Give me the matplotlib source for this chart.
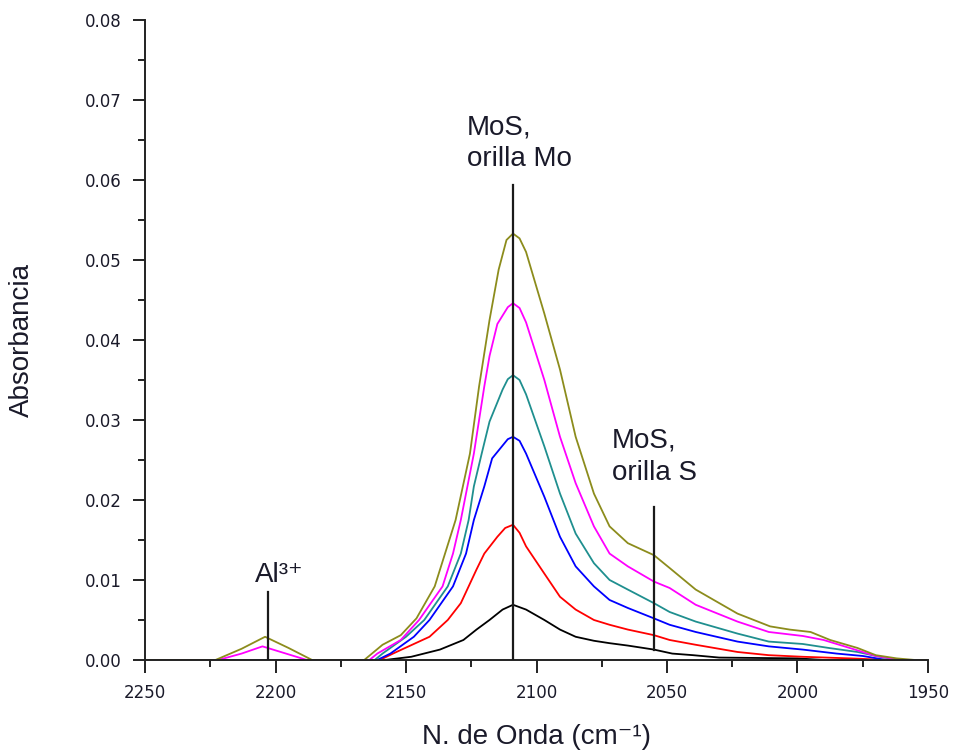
import numpy as np
import matplotlib.pyplot as plt
import matplotlib.ticker as ticker

# CO adsorption spectra, read as (wavenumber, absorbance) pairs per dose
wn_olive = [2250, 2223, 2213, 2204, 2195, 2186, 2166, 2159, 2152, 2146, 2139, 2131, 2125.5, 2122, 2118, 2114.5, 2111.5,
            2109, 2106.5, 2104, 2097, 2091, 2085, 2078, 2072, 2065, 2055, 2049, 2039, 2023, 2010.5, 2003, 1995, 1987.5,
            1977, 1970, 1962, 1955, 1950]
ab_olive = [0, 0, 0.0014, 0.0029, 0.0015, 0, 0, 0.0019, 0.0031, 0.0052, 0.0092, 0.0175, 0.0258, 0.0342, 0.0425, 0.0488,
            0.0525, 0.0533, 0.0527, 0.0510, 0.0433, 0.0363, 0.0279, 0.0208, 0.0167, 0.0146, 0.0131, 0.0115, 0.0088,
            0.0058, 0.0042, 0.0038, 0.0035, 0.0025, 0.0015, 0.0006, 0.0002, 0, 0]

wn_magenta = [2250, 2222, 2213, 2205, 2196, 2188, 2164, 2161, 2152, 2145, 2136, 2132, 2129, 2124, 2120, 2118, 2115,
              2111, 2109, 2106.5, 2104, 2097, 2091, 2085, 2078, 2072, 2065, 2055, 2049, 2039, 2023, 2011, 1998, 1990,
              1980, 1970, 1960, 1950]
ab_magenta = [0, 0, 0.0008, 0.0017, 0.0008, 0, 0, 0.0008, 0.0025, 0.005, 0.0092, 0.0133, 0.0175, 0.0258, 0.0342,
              0.0380, 0.0420, 0.0441, 0.0446, 0.0440, 0.0422, 0.035, 0.0279, 0.0221, 0.0167, 0.0133, 0.0117, 0.0098,
              0.009, 0.0069, 0.0048, 0.0035, 0.003, 0.0025, 0.0015, 0.0005, 0, 0]

wn_teal = [2250, 2162, 2159, 2150, 2143, 2134, 2129, 2126, 2124, 2121, 2118, 2113, 2111, 2109, 2106.5, 2104, 2097, 2091,
           2085, 2078, 2072, 2065, 2055, 2049, 2039, 2023, 2011, 1998, 1988, 1977, 1967, 1960, 1950]
ab_teal = [0, 0, 0.0008, 0.0029, 0.005, 0.0092, 0.0133, 0.0175, 0.0217, 0.0258, 0.0298, 0.0338, 0.0351, 0.0356, 0.0350,
           0.0332, 0.0267, 0.0208, 0.0158, 0.0121, 0.01, 0.0088, 0.0071, 0.006, 0.0048, 0.0033, 0.0023, 0.002, 0.0015,
           0.001, 0.0003, 0, 0]

wn_blue = [2250, 2161, 2156, 2147, 2141, 2132, 2127, 2124, 2120, 2117, 2113, 2111, 2109, 2106.5, 2104, 2097, 2091, 2085,
           2078, 2072, 2065, 2055, 2049, 2039, 2023, 2011, 1998, 1985, 1975, 1966, 1950]
ab_blue = [0, 0, 0.0008, 0.0029, 0.005, 0.0092, 0.0133, 0.0175, 0.0217, 0.0252, 0.0268, 0.0276, 0.0279, 0.0274, 0.0258,
           0.0204, 0.0154, 0.0117, 0.0092, 0.0075, 0.0065, 0.0052, 0.0044, 0.0035, 0.0023, 0.0017, 0.0013, 0.0008,
           0.0005, 0, 0]

wn_red = [2250, 2160, 2155, 2141, 2134, 2129, 2126, 2123, 2120, 2115, 2112, 2109, 2106.5, 2104, 2097, 2091, 2085, 2078,
          2072, 2065, 2055, 2049, 2039, 2023, 2011, 1998, 1980, 1965, 1950]
ab_red = [0, 0, 0.0008, 0.0029, 0.005, 0.0071, 0.0092, 0.0113, 0.0133, 0.0154, 0.0165, 0.0169, 0.0159, 0.0142, 0.0108,
          0.0079, 0.0063, 0.005, 0.0044, 0.0038, 0.0031, 0.0025, 0.0019, 0.001, 0.0006, 0.0004, 0.0002, 0, 0]

wn_black = [2250, 2158, 2148, 2137, 2128, 2123, 2118, 2113, 2109, 2104, 2097, 2091, 2085, 2078, 2072, 2065, 2055, 2048,
            2040, 2030, 2000, 1990, 1950]
ab_black = [0, 0, 0.0004, 0.0013, 0.0025, 0.0038, 0.005, 0.0063, 0.0069, 0.0063, 0.005, 0.0038, 0.0029, 0.0024, 0.0021,
            0.0018, 0.0013, 0.0008, 0.0006, 0.0003, 0.0002, 0, 0]

# band assignments: label, position (cm-1), marker bottom, marker top
bands = [("MoS,\norilla Mo", 2109, 0.0, 0.0594),
         ("MoS,\norilla S", 2055, 0.00125, 0.0191),
         ("Al³⁺", 2203, 0.0, 0.0085)]

series = [(wn_black, ab_black, "black"),
          (wn_red, ab_red, "#ff0000"),
          (wn_blue, ab_blue, "#0000ff"),
          (wn_teal, ab_teal, "#1f8f8f"),
          (wn_magenta, ab_magenta, "#ff00ff"),
          (wn_olive, ab_olive, "#8c8c1c")]

fig = plt.figure(figsize=(9.56, 7.54), dpi=100)
ax = fig.add_axes([0.1517, 0.1247, 0.8190, 0.8488])

for wn, ab, c in series:
    ax.plot(wn, ab, color=c, lw=1.3)

for label, pos, lo, hi in bands:
    ax.plot([pos, pos], [lo, hi], color="#1a1a1a", lw=1.6, zorder=5)

fams = ["Liberation Sans", "DejaVu Sans"]
txt = dict(family=fams, fontsize=20, color="#1a1a2a")
ax.text(2126.6, 0.0682, bands[0][0], ha="left", va="top", linespacing=1.3, **txt)
ax.text(2071.1, 0.0290, bands[1][0], ha="left", va="top", linespacing=1.3, **txt)
ax.text(2207.9, 0.00975, bands[2][0], ha="left", va="baseline", **txt)

ax.set_xlim(2250, 1950)
ax.set_ylim(0, 0.08)
ax.xaxis.set_major_locator(ticker.MultipleLocator(50))
ax.xaxis.set_minor_locator(ticker.MultipleLocator(25))
ax.yaxis.set_major_locator(ticker.MultipleLocator(0.01))
ax.yaxis.set_minor_locator(ticker.MultipleLocator(0.005))
ax.yaxis.set_major_formatter(ticker.FormatStrFormatter("%.2f"))

for side in ["top", "right"]:
    ax.spines[side].set_visible(False)
for side in ["left", "bottom"]:
    ax.spines[side].set_linewidth(1.4)
    ax.spines[side].set_color("#222222")

ax.tick_params(which="major", direction="out", length=9, width=1.4, color="#222222", pad=8)
ax.tick_params(which="minor", direction="out", length=5, width=1.4, color="#222222")
for lab in ax.get_xticklabels() + ax.get_yticklabels():
    lab.set_family("DejaVu Sans")
    lab.set_fontsize(12)
    lab.set_color("#1a1a2a")

ax.set_xlabel("N. de Onda (cm⁻¹)", family=fams, fontsize=20, color="#1a1a2a", labelpad=16)
ax.set_ylabel("Absorbancia", family=fams, fontsize=20, color="#1a1a2a", labelpad=36)

fig.savefig("out.png", dpi=100)
